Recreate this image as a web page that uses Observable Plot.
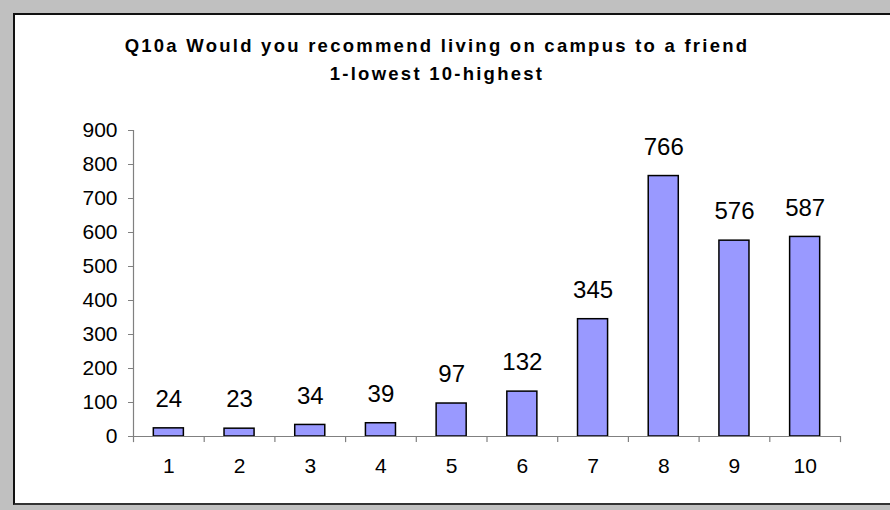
<!DOCTYPE html>
<html>
<head>
<meta charset="utf-8">
<script src="https://cdn.jsdelivr.net/npm/d3@7"></script>
<script src="https://cdn.jsdelivr.net/npm/@observablehq/plot@0.6"></script>
<style>
  html, body { margin: 0; padding: 0; }
  body { width: 890px; height: 510px; background: #c0c0c0; position: relative; overflow: hidden; font-family: "Liberation Sans", Arial, sans-serif; }
  #panel { position: absolute; left: 13px; top: 13px; width: 890px; height: 488px; background: #fff; border-left: 2px solid #111; border-top: 2px solid #111; border-bottom: 2px solid #333; }
  #title { position: absolute; left: 0; width: 874px; top: 32px; text-align: center; font-weight: bold; font-size: 18.5px; line-height: 28px; letter-spacing: 2.25px; color: #000; }
  #chart { position: absolute; left: 0; top: 0; }
</style>
</head>
<body>
<div id="panel"></div>
<div id="title">Q10a Would you recommend living on campus to a friend<br>1-lowest 10-highest</div>
<div id="chart"></div>
<script>
const categories = [1, 2, 3, 4, 5, 6, 7, 8, 9, 10];
const counts = [24, 23, 34, 39, 97, 132, 345, 766, 576, 587];
const yTicks = [0, 100, 200, 300, 400, 500, 600, 700, 800, 900];

const data = categories.map((c, i) => ({cat: c, value: counts[i]}));

const W = 890, H = 510;
const mL = 133, mR = 50, mT = 130, mB = 74;
const step = (W - mL - mR) / categories.length;
const axisGrey = "#808080";

const chart = Plot.plot({
  width: W,
  height: H,
  marginLeft: mL,
  marginRight: mR,
  marginTop: mT,
  marginBottom: mB,
  style: {background: "transparent", fontFamily: "'Liberation Sans', Arial, sans-serif", color: "#000"},
  x: {type: "band", domain: categories, paddingInner: 0.575, paddingOuter: 0.2875, round: false},
  y: {domain: [0, 900]},
  marks: [
    Plot.axisY({ticks: yTicks, tickSize: 5, tickPadding: 11, fontSize: 21, stroke: axisGrey, fill: "#000", label: null}),
    Plot.axisX({tickSize: 0, tickPadding: 22, fontSize: 21, fill: "#000", label: null}),
    Plot.barY(data, {x: "cat", y: "value", fill: "#9999ff", stroke: "#000", strokeWidth: 1.5}),
    Plot.ruleY([0], {stroke: axisGrey, strokeWidth: 1.2}),
    Plot.ruleX([categories[0]], {dx: -step / 2, y1: 0, y2: 900, stroke: axisGrey, strokeWidth: 1.2}),
    Plot.ruleX(categories, {dx: -step / 2, y1: 0, y2: -18, stroke: axisGrey, strokeWidth: 1.2}),
    Plot.ruleX([categories[categories.length - 1]], {dx: step / 2, y1: 0, y2: -18, stroke: axisGrey, strokeWidth: 1.2}),
    Plot.text(data, {x: "cat", y: "value", text: d => String(d.value), dy: -29, fontSize: 24, fill: "#000"})
  ]
});
document.getElementById("chart").appendChild(chart);
</script>
</body>
</html>
